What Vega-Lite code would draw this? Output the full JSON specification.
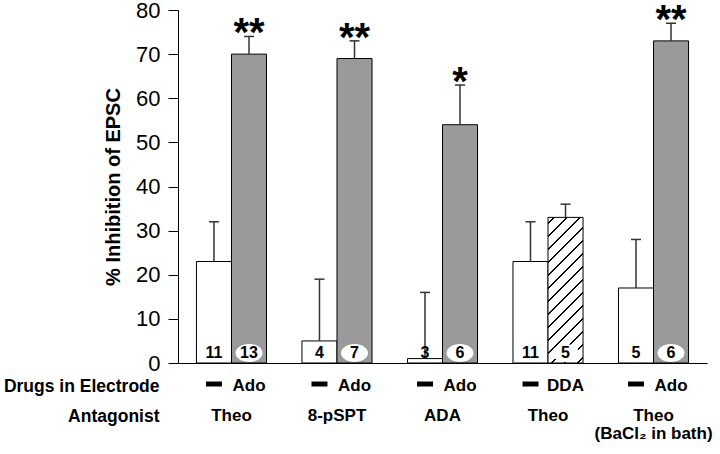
{
  "$schema": "https://vega.github.io/schema/vega-lite/v6.json",
  "width": 529,
  "height": 353,
  "autosize": "none",
  "padding": {"left": 178, "top": 10, "right": 13, "bottom": 91},
  "config": {"font": "Liberation Sans", "view": {"stroke": null}, "axis": {"grid": false}},
  "data": {"values": [
    {"grp": "g1", "cond": "ctrl", "val": 23, "top": 32, "n": "11", "pat": "white", "star": "", "drug": ""},
    {"grp": "g1", "cond": "drug", "val": 70, "top": 74, "n": "13", "pat": "stipple", "star": "**", "drug": "Ado"},
    {"grp": "g2", "cond": "ctrl", "val": 5, "top": 19, "n": "4", "pat": "white", "star": "", "drug": ""},
    {"grp": "g2", "cond": "drug", "val": 69, "top": 73, "n": "7", "pat": "stipple", "star": "**", "drug": "Ado"},
    {"grp": "g3", "cond": "ctrl", "val": 1, "top": 16, "n": "3", "pat": "white", "star": "", "drug": ""},
    {"grp": "g3", "cond": "drug", "val": 54, "top": 63, "n": "6", "pat": "stipple", "star": "*", "drug": "Ado"},
    {"grp": "g4", "cond": "ctrl", "val": 23, "top": 32, "n": "11", "pat": "white", "star": "", "drug": ""},
    {"grp": "g4", "cond": "drug", "val": 33, "top": 36, "n": "5", "pat": "hatch", "star": "", "drug": "DDA"},
    {"grp": "g5", "cond": "ctrl", "val": 17, "top": 28, "n": "5", "pat": "white", "star": "", "drug": ""},
    {"grp": "g5", "cond": "drug", "val": 73, "top": 77, "n": "6", "pat": "stipple", "star": "**", "drug": "Ado"}
  ]},
  "encoding": {
    "x": {
      "field": "grp", "type": "nominal", "sort": null,
      "scale": {"paddingInner": 0.336, "paddingOuter": 0.175},
      "axis": {
        "title": ["Drugs in Electrode", "Antagonist"],
        "titleAngle": 0, "titleAlign": "right", "titleX": -19, "titleY": 28,
        "titleBaseline": "alphabetic", "titleLineHeight": 30,
        "titleFontSize": 17.5, "titleFontWeight": "bold", "titleColor": "black",
        "ticks": false, "tickSize": 0, "domain": true, "domainColor": "black", "domainWidth": 1,
        "labelAngle": 0, "labelPadding": 44, "labelFontSize": 17, "labelFontWeight": "bold",
        "labelColor": "black", "labelBaseline": "top", "labelLineHeight": 18,
        "labelOverlap": false, "labelBound": false, "labelFlush": false,
        "labelExpr": "datum.value=='g2'?'8-pSPT':datum.value=='g3'?'ADA':datum.value=='g5'?['Theo','(BaCl₂ in bath)']:'Theo'"
      }
    },
    "xOffset": {"field": "cond", "type": "nominal", "sort": ["ctrl", "drug"], "scale": {"paddingInner": 0, "paddingOuter": 0}}
  },
  "layer": [
    {
      "transform": [{"filter": "datum.pat != 'hatch'"}],
      "mark": {"type": "bar", "stroke": "black", "strokeWidth": 1},
      "encoding": {
        "y": {
          "field": "val", "type": "quantitative", "scale": {"domain": [0, 80], "nice": false},
          "axis": {
            "title": "% Inhibition of EPSC", "titleFontSize": 20, "titleFontWeight": "bold", "titleColor": "black",
            "titlePadding": 12, "values": [0, 10, 20, 30, 40, 50, 60, 70, 80],
            "labelFontSize": 22, "labelColor": "black", "labelPadding": 8,
            "tickSize": 10, "tickColor": "black", "domainColor": "black"
          }
        },
        "fill": {"field": "pat", "type": "nominal", "scale": {"domain": ["white", "stipple"], "range": ["#ffffff", "#9a9a9a"]}, "legend": null}
      }
    },
    {
      "transform": [{"filter": "datum.pat == 'hatch'"}],
      "mark": {"type": "bar", "stroke": "black", "strokeWidth": 1,
        "fill": {"gradient": "linear", "x1": 0, "y1": 0, "x2": 0.282, "y2": 1.1727, "stops": [
          {"offset": 0, "color": "white"},
          {"offset": 0.0262, "color": "white"}, {"offset": 0.0262, "color": "black"}, {"offset": 0.0402, "color": "black"}, {"offset": 0.0402, "color": "white"},
          {"offset": 0.0983, "color": "white"}, {"offset": 0.0983, "color": "black"}, {"offset": 0.1123, "color": "black"}, {"offset": 0.1123, "color": "white"},
          {"offset": 0.1703, "color": "white"}, {"offset": 0.1703, "color": "black"}, {"offset": 0.1843, "color": "black"}, {"offset": 0.1843, "color": "white"},
          {"offset": 0.2423, "color": "white"}, {"offset": 0.2423, "color": "black"}, {"offset": 0.2563, "color": "black"}, {"offset": 0.2563, "color": "white"},
          {"offset": 0.3143, "color": "white"}, {"offset": 0.3143, "color": "black"}, {"offset": 0.3283, "color": "black"}, {"offset": 0.3283, "color": "white"},
          {"offset": 0.3864, "color": "white"}, {"offset": 0.3864, "color": "black"}, {"offset": 0.4004, "color": "black"}, {"offset": 0.4004, "color": "white"},
          {"offset": 0.4584, "color": "white"}, {"offset": 0.4584, "color": "black"}, {"offset": 0.4724, "color": "black"}, {"offset": 0.4724, "color": "white"},
          {"offset": 0.5304, "color": "white"}, {"offset": 0.5304, "color": "black"}, {"offset": 0.5444, "color": "black"}, {"offset": 0.5444, "color": "white"},
          {"offset": 0.6024, "color": "white"}, {"offset": 0.6024, "color": "black"}, {"offset": 0.6164, "color": "black"}, {"offset": 0.6164, "color": "white"},
          {"offset": 0.6744, "color": "white"}, {"offset": 0.6744, "color": "black"}, {"offset": 0.6884, "color": "black"}, {"offset": 0.6884, "color": "white"},
          {"offset": 0.7465, "color": "white"}, {"offset": 0.7465, "color": "black"}, {"offset": 0.7605, "color": "black"}, {"offset": 0.7605, "color": "white"},
          {"offset": 0.8185, "color": "white"}, {"offset": 0.8185, "color": "black"}, {"offset": 0.8325, "color": "black"}, {"offset": 0.8325, "color": "white"},
          {"offset": 0.8905, "color": "white"}, {"offset": 0.8905, "color": "black"}, {"offset": 0.9045, "color": "black"}, {"offset": 0.9045, "color": "white"},
          {"offset": 0.9625, "color": "white"}, {"offset": 0.9625, "color": "black"}, {"offset": 0.9765, "color": "black"}, {"offset": 0.9765, "color": "white"},
          {"offset": 1, "color": "white"}
        ]}},
      "encoding": {
        "y": {"field": "val", "type": "quantitative", "scale": {"domain": [0, 80], "nice": false}}
      }
    },
    {
      "mark": {"type": "rule", "color": "#333333", "strokeWidth": 1.5},
      "encoding": {
        "y": {"field": "val", "type": "quantitative", "scale": {"domain": [0, 80], "nice": false}},
        "y2": {"field": "top"}
      }
    },
    {
      "mark": {"type": "tick", "color": "#333333", "size": 10, "thickness": 1.5, "opacity": 1},
      "encoding": {
        "y": {"field": "top", "type": "quantitative", "scale": {"domain": [0, 80], "nice": false}}
      }
    },
    {
      "transform": [{"filter": "datum.cond == 'drug'"}],
      "mark": {"type": "point", "shape": "M-1,0A1,0.667,0,1,1,1,0A1,0.667,0,1,1,-1,0Z", "filled": true, "fill": "white", "strokeWidth": 0, "opacity": 1, "size": 729},
      "encoding": {
        "y": {"datum": 2.27, "type": "quantitative", "scale": {"domain": [0, 80], "nice": false}}
      }
    },
    {
      "mark": {"type": "text", "fontSize": 16, "fontWeight": "bold", "baseline": "alphabetic", "color": "black"},
      "encoding": {
        "y": {"datum": 1.13, "type": "quantitative", "scale": {"domain": [0, 80], "nice": false}},
        "text": {"field": "n"}
      }
    },
    {
      "transform": [{"filter": "datum.star != ''"}],
      "mark": {"type": "text", "fontSize": 40, "fontWeight": "bold", "baseline": "alphabetic", "dy": 10, "color": "black"},
      "encoding": {
        "y": {"field": "top", "type": "quantitative", "scale": {"domain": [0, 80], "nice": false}},
        "text": {"field": "star"}
      }
    },
    {
      "transform": [{"filter": "datum.cond == 'ctrl'"}],
      "mark": {"type": "tick", "color": "black", "size": 16, "thickness": 5, "opacity": 1},
      "encoding": {
        "y": {"datum": -4.76, "type": "quantitative", "scale": {"domain": [0, 80], "nice": false}}
      }
    },
    {
      "transform": [{"filter": "datum.cond == 'drug'"}],
      "mark": {"type": "text", "fontSize": 17, "fontWeight": "bold", "baseline": "alphabetic", "color": "black"},
      "encoding": {
        "y": {"datum": -6.35, "type": "quantitative", "scale": {"domain": [0, 80], "nice": false}},
        "text": {"field": "drug"}
      }
    }
  ]
}
